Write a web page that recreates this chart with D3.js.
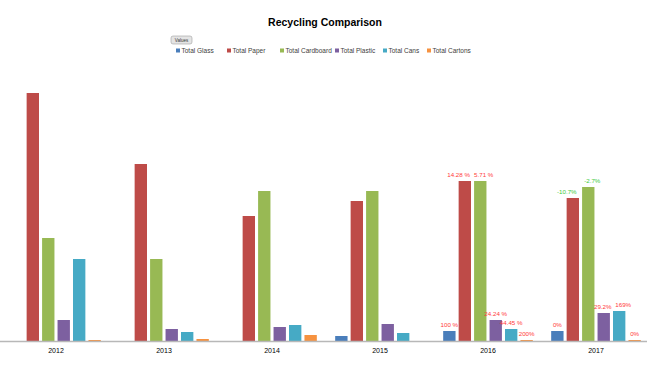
<html>
<head>
<script src="https://d3js.org/d3.v7.min.js"></script>
<style>
  body { margin: 0; background: #fff; }
  text { font-family: "Liberation Sans", Arial, sans-serif; }
  .title { font-size: 10.5px; font-weight: bold; fill: #000; }
  .legend-text { font-size: 6.5px; fill: #404040; }
  .cat-label { font-size: 7px; fill: #000; }
  .pct { font-size: 6.2px; }
</style>
</head>
<body>
<svg id="chart" width="656" height="376"></svg>
<script>
// categories
const years = ["2012", "2013", "2014", "2015", "2016", "2017"];
const materials = ["Total Glass", "Total Paper", "Total Cardboard", "Total Plastic", "Total Cans", "Total Cartons"];
const colors = ["#4a7ebb", "#be4b48", "#98b954", "#7d60a0", "#46aac5", "#f69240"];

// series values, one array per material (tonnes)
const glass     = [0,   0,   0,   10,  20,  20];
const paper     = [496, 354, 250, 280, 320, 286];
const cardboard = [206, 164, 300, 300, 320, 308];
const plastic   = [42,  24,  28,  34,  42,  56];
const cans      = [164, 18,  32,  16,  24,  60];
const cartons   = [2,   4,   12,  0,   2,   2];

// change labels shown on 2016 and 2017 bars
const labels2016 = ["100 %", "14.28 %", "5.71 %", "24.24 %", "44.45 %", "200%"];
const labels2017 = ["0%", "-10.7%", "-2.7%", "29.2%", "169%", "0%"];
const labelUp2017 = [true, false, false, true, true, true];

const series = [glass, paper, cardboard, plastic, cans, cartons];

const svg = d3.select("#chart");
const margin = {left: 2, right: 6, top: 91, bottom: 35};
const width = 656, height = 376;
const baseY = height - margin.bottom; // 341

const xGroup = d3.scaleBand().domain(years)
    .range([margin.left, width - margin.right])
    .paddingInner(0.17).paddingOuter(0.085);
const xBar = d3.scaleBand().domain(materials)
    .range([0, xGroup.bandwidth()])
    .paddingInner(0.2);
const y = d3.scaleLinear().domain([0, 500]).range([baseY, margin.top]);

// title
svg.append("text").attr("class", "title")
    .attr("x", 325).attr("y", 26)
    .attr("text-anchor", "middle")
    .text("Recycling Comparison");

// "Values" field button
const btn = svg.append("g").attr("transform", "translate(171,36)");
btn.append("rect").attr("width", 21).attr("height", 8).attr("rx", 2)
    .attr("fill", "#e4e4e4").attr("stroke", "#a0a0a0").attr("stroke-width", 0.6);
btn.append("text").attr("x", 10.5).attr("y", 5.8).attr("text-anchor", "middle")
    .style("font-size", "4.5px").attr("fill", "#333").text("Values");

// legend
const legendX = [176, 227, 280, 335, 383, 427];
const legend = svg.append("g").attr("transform", "translate(0,51)");
materials.forEach((m, i) => {
    legend.append("rect").attr("x", legendX[i]).attr("y", -2.5)
        .attr("width", 4).attr("height", 4).attr("fill", colors[i]);
    legend.append("text").attr("class", "legend-text")
        .attr("x", legendX[i] + 5.5).attr("y", 2)
        .text(m);
});

// bars
const groups = svg.append("g").selectAll("g").data(years).join("g")
    .attr("transform", d => `translate(${xGroup(d)},0)`);

groups.each(function(year, yi) {
    const g = d3.select(this);
    materials.forEach((m, mi) => {
        const v = series[mi][yi];
        if (v <= 0) return;
        g.append("rect")
            .attr("x", xBar(m))
            .attr("y", y(v))
            .attr("width", xBar.bandwidth())
            .attr("height", Math.max(baseY - y(v), 1))
            .attr("fill", colors[mi]);
    });
});

// axis line
svg.append("line")
    .attr("x1", 0).attr("x2", 647)
    .attr("y1", baseY + 0.5).attr("y2", baseY + 0.5)
    .attr("stroke", "#b8b8b8").attr("stroke-width", 1.5);

// category labels
svg.append("g").selectAll("text").data(years).join("text")
    .attr("class", "cat-label")
    .attr("x", d => xGroup(d) + xGroup.bandwidth() / 2)
    .attr("y", baseY + 12)
    .attr("text-anchor", "middle")
    .text(d => d);

// percentage labels
function addLabels(year, texts, colorFn) {
    texts.forEach((t, mi) => {
        const m = materials[mi];
        const v = series[mi][years.indexOf(year)];
        let x = xGroup(year) + xBar(m) + xBar.bandwidth() / 2;
        let anchor = "middle";
        // neighbouring labels would collide, so push them apart
        if (year === "2016" && mi === 1) { x = xGroup(year) + xBar(m) + xBar.bandwidth() - 1; anchor = "end"; }
        if (year === "2016" && mi === 2) { x = xGroup(year) + xBar(m); anchor = "start"; }
        if (year === "2017" && mi === 1) { x -= 6; }
        if (year === "2017" && mi === 2) { x += 4; }
        if (year === "2017" && mi === 3) { x -= 1; }
        if (year === "2017" && mi === 4) { x += 4; }
        svg.append("text").attr("class", "pct")
            .attr("x", x)
            .attr("y", y(v) - 4)
            .attr("text-anchor", anchor)
            .attr("fill", colorFn(mi))
            .text(t);
    });
}
addLabels("2016", labels2016, () => "#ff3b3b");
addLabels("2017", labels2017, mi => labelUp2017[mi] ? "#ff3b3b" : "#3ecb3e");
</script>
</body>
</html>
